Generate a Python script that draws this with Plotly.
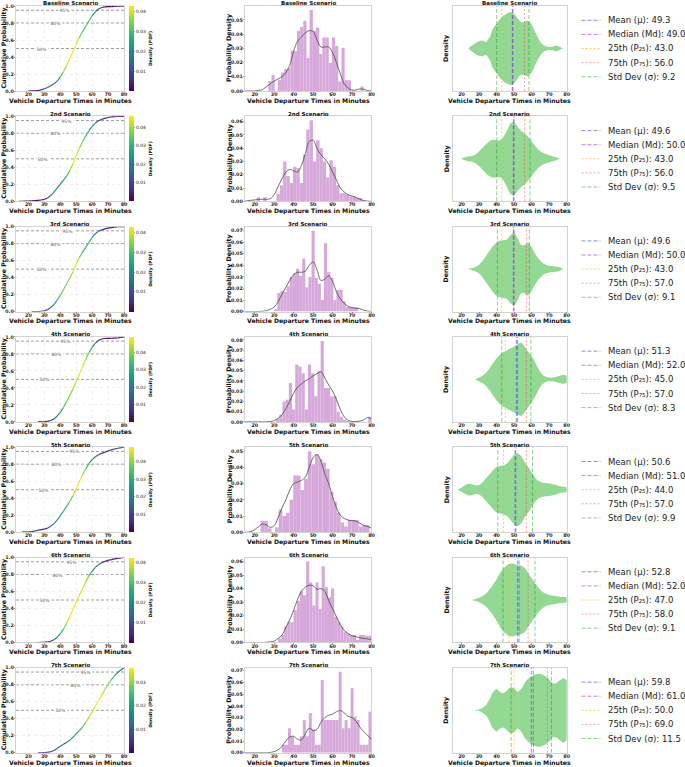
import numpy as np
import plotly.graph_objects as go
from plotly.colors import sample_colorscale

W, H = 685, 767
FONT = "DejaVu Sans"

# ---------------- data ----------------
scenarios = ["Baseline Scenario", "2nd Scenario", "3rd Scenario", "4th Scenario",
             "5th Scenario", "6th Scenario", "7th Scenario"]

kde_x = [14, 16, 18, 20, 22, 24, 26, 28, 30, 32, 34, 36, 38, 40, 42, 44, 46, 48,
         50, 52, 54, 56, 58, 60, 62, 64, 66, 68, 70, 72, 74, 76, 78, 80]

# histogram bins: first edge, width and density per bin
hist_start = [27, 21, 30, 31, 23, 32, 34]
hist_width = [1.633, 1.7, 1.6, 1.633, 1.867, 1.6, 1.533]
hist_1 = [0.0071, 0.0114, 0.0, 0.0079, 0.013, 0.0155, 0.016, 0.0286, 0.028, 0.0424,
          0.045, 0.0495, 0.0233, 0.057, 0.0424, 0.0447, 0.026, 0.0376, 0.0376, 0.0198,
          0.0376, 0.0317, 0.0067, 0.0305, 0.0075, 0.0075, 0.0, 0.0, 0.0, 0.0031]
hist_2 = [0.003, 0.0, 0.003, 0.0, 0.0, 0.0, 0.0055, 0.012, 0.03, 0.019, 0.0137, 0.026,
          0.025, 0.0137, 0.035, 0.054, 0.061, 0.03, 0.046, 0.04, 0.03, 0.018, 0.031,
          0.026, 0.012, 0.006, 0.006, 0.005, 0.0037, 0.0037, 0.0025, 0.0025]
hist_3 = [0.002, 0.016, 0.018, 0.017, 0.022, 0.03, 0.033, 0.037, 0.031, 0.046, 0.021,
          0.03, 0.07, 0.029, 0.024, 0.01, 0.059, 0.034, 0.029, 0.01, 0.019, 0.019,
          0.009, 0.004, 0.004, 0.0035, 0.0035]
hist_4 = [0.003, 0.007, 0.02, 0.0215, 0.038, 0.012, 0.056, 0.054, 0.0475, 0.012, 0.056,
          0.0475, 0.025, 0.05, 0.079, 0.033, 0.033, 0.025, 0.025, 0.01, 0.005, 0.002,
          0.001, 0.0, 0.0, 0.0, 0.0, 0.0, 0.0, 0.005]
hist_5 = [0.007, 0.007, 0.0025, 0.0, 0.003, 0.014, 0.01, 0.012, 0.02, 0.035, 0.035,
          0.026, 0.033, 0.05, 0.042, 0.048, 0.045, 0.043, 0.039, 0.025, 0.019, 0.012,
          0.006, 0.0035, 0.0075, 0.0075, 0.0075, 0.0035, 0.0045, 0.0045]
hist_6 = [0.003, 0.0056, 0.012, 0.0153, 0.015, 0.024, 0.031, 0.038, 0.035, 0.06,
          0.0445, 0.0275, 0.0445, 0.025, 0.0566, 0.041, 0.0336, 0.04, 0.019, 0.0153,
          0.0117, 0.008, 0.0068, 0.0056, 0.0056, 0.002, 0.0056, 0.0056, 0.005, 0.005]
hist_7 = [0.0068, 0.0068, 0.021, 0.014, 0.0068, 0.0068, 0.014, 0.028, 0.014, 0.034,
          0.02, 0.0068, 0.0068, 0.062, 0.028, 0.028, 0.028, 0.028, 0.028, 0.069, 0.021,
          0.028, 0.021, 0.055, 0.031, 0.028, 0.0068, 0.0068, 0.0068, 0.035]

# kernel density (probability density) sampled on kde_x
kde_1 = [0, 0, 0, 0, 0.0005, 0.001, 0.003, 0.005, 0.007, 0.0085, 0.01, 0.013, 0.018,
         0.028, 0.035, 0.038, 0.041, 0.0425, 0.042, 0.036, 0.031, 0.031, 0.031, 0.027,
         0.02, 0.012, 0.005, 0.002, 0.0006, 0.0007, 0.0015, 0.0012, 0.0003, 0]
kde_2 = [0, 0.0003, 0.0008, 0.001, 0.0015, 0.0015, 0.0015, 0.002, 0.005, 0.011, 0.017,
         0.022, 0.024, 0.023, 0.022, 0.027, 0.036, 0.045, 0.046, 0.04, 0.035, 0.032,
         0.028, 0.022, 0.016, 0.01, 0.007, 0.005, 0.004, 0.003, 0.0015, 0.0005, 0.0001, 0]
kde_3 = [0, 0, 0, 0, 0, 0.0003, 0.0008, 0.002, 0.004, 0.0085, 0.015, 0.021, 0.027,
         0.032, 0.034, 0.034, 0.035, 0.04, 0.043, 0.036, 0.027, 0.028, 0.031, 0.026,
         0.017, 0.011, 0.007, 0.0045, 0.0035, 0.003, 0.0025, 0.0012, 0.0004, 0.0001]
kde_4 = [0, 0, 0, 0, 0, 0, 0, 0.0003, 0.0012, 0.0035, 0.007, 0.013, 0.02, 0.028, 0.034,
         0.037, 0.04, 0.042, 0.045, 0.047, 0.049, 0.043, 0.036, 0.03, 0.022, 0.012,
         0.005, 0.0015, 0.0004, 0.0003, 0.0008, 0.002, 0.0042, 0.003]
kde_5 = [0, 0, 0.0003, 0.0015, 0.0035, 0.005, 0.0045, 0.003, 0.004, 0.009, 0.015, 0.02,
         0.026, 0.03, 0.031, 0.032, 0.034, 0.04, 0.046, 0.048, 0.044, 0.036, 0.03,
         0.022, 0.015, 0.0105, 0.0085, 0.0075, 0.0072, 0.0068, 0.0055, 0.0042, 0.0035,
         0.0025]
kde_6 = [0, 0, 0, 0, 0, 0, 0.0002, 0.0005, 0.001, 0.003, 0.0055, 0.011, 0.017, 0.024,
         0.032, 0.038, 0.041, 0.0425, 0.042, 0.0395, 0.04, 0.038, 0.031, 0.025, 0.019,
         0.013, 0.009, 0.0066, 0.005, 0.0043, 0.0035, 0.003, 0.0027, 0.002]
kde_7 = [0, 0, 0, 0, 0, 0, 0, 0.0003, 0.001, 0.0025, 0.0055, 0.01, 0.0135, 0.014,
         0.0115, 0.011, 0.016, 0.021, 0.019, 0.02, 0.026, 0.03, 0.032, 0.033, 0.035,
         0.036, 0.034, 0.031, 0.03, 0.027, 0.022, 0.018, 0.015, 0.011]

# cumulative probability sampled on kde_x
cdf_1 = [0, 0, 0, 0, 0.0005, 0.002, 0.006, 0.014, 0.026, 0.042, 0.061, 0.084, 0.116,
         0.163, 0.227, 0.301, 0.381, 0.466, 0.552, 0.631, 0.699, 0.762, 0.826, 0.885,
         0.932, 0.965, 0.982, 0.989, 0.992, 0.993, 0.995, 0.998, 0.9997, 1.0]
cdf_2 = [0, 0.0003, 0.0014, 0.0033, 0.0058, 0.0089, 0.0119, 0.0155, 0.0226, 0.0389,
         0.0675, 0.1072, 0.1541, 0.202, 0.2478, 0.2977, 0.3619, 0.4445, 0.5372, 0.6248,
         0.7013, 0.7696, 0.8307, 0.8817, 0.9204, 0.9469, 0.9642, 0.9764, 0.9856, 0.9927,
         0.9973, 0.9993, 0.9999, 1.0]
cdf_3 = [0, 0, 0, 0, 0, 0.0003, 0.0014, 0.0042, 0.0103, 0.023, 0.047, 0.083, 0.132,
         0.191, 0.258, 0.327, 0.396, 0.472, 0.556, 0.636, 0.7, 0.755, 0.815, 0.872,
         0.916, 0.944, 0.962, 0.974, 0.982, 0.989, 0.994, 0.998, 0.9995, 1.0]
cdf_4 = [0, 0, 0, 0, 0, 0, 0, 0.0003, 0.0017, 0.0062, 0.016, 0.035, 0.067, 0.112, 0.171,
         0.239, 0.312, 0.39, 0.473, 0.56, 0.652, 0.739, 0.814, 0.877, 0.926, 0.959,
         0.975, 0.981, 0.983, 0.984, 0.985, 0.987, 0.993, 1.0]
cdf_5 = [0, 0, 0.0003, 0.0019, 0.0064, 0.014, 0.0226, 0.0294, 0.0357, 0.0474, 0.069,
         0.1006, 0.142, 0.1925, 0.2475, 0.3043, 0.3638, 0.4305, 0.508, 0.5927, 0.6756,
         0.7477, 0.8072, 0.8541, 0.8874, 0.9104, 0.9275, 0.9419, 0.9552, 0.9678, 0.9789,
         0.9877, 0.9946, 1.0]
cdf_6 = [0, 0, 0, 0, 0, 0, 0.0002, 0.0009, 0.0024, 0.0064, 0.015, 0.0315, 0.0596,
         0.1007, 0.1569, 0.2272, 0.3064, 0.3902, 0.475, 0.5568, 0.6366, 0.7148, 0.784,
         0.8402, 0.8844, 0.9165, 0.9386, 0.9542, 0.9659, 0.9752, 0.983, 0.9895, 0.9953, 1.0]
cdf_7 = [0, 0, 0, 0, 0, 0, 0, 0.0003, 0.0015, 0.0049, 0.0126, 0.0275, 0.0501, 0.0766,
         0.1011, 0.1227, 0.1487, 0.1843, 0.2228, 0.2603, 0.3045, 0.3584, 0.418, 0.4806,
         0.546, 0.6143, 0.6816, 0.7441, 0.8028, 0.8577, 0.9048, 0.9433, 0.975, 1.0]

# violin relative half-width on kde_x
violin_1 = [0, 0, 0, 0, 0, 0, 0.08, 0.15, 0.2, 0.21, 0.18, 0.3, 0.55, 0.68, 0.81, 0.9,
            0.96, 1.0, 0.95, 0.82, 0.72, 0.74, 0.76, 0.66, 0.46, 0.26, 0.12, 0.06, 0.04,
            0.05, 0.08, 0.04, 0, 0]
violin_2 = [0, 0, 0, 0, 0.04, 0.07, 0.08, 0.12, 0.2, 0.3, 0.4, 0.48, 0.52, 0.5, 0.5, 0.6,
            0.78, 0.97, 1.0, 0.88, 0.77, 0.7, 0.6, 0.48, 0.35, 0.24, 0.17, 0.13, 0.1,
            0.07, 0.04, 0, 0, 0]
violin_3 = [0, 0, 0, 0, 0, 0, 0.03, 0.06, 0.12, 0.22, 0.36, 0.5, 0.63, 0.73, 0.78, 0.79,
            0.82, 0.93, 1.0, 0.85, 0.66, 0.66, 0.72, 0.6, 0.42, 0.28, 0.18, 0.12, 0.09,
            0.08, 0.07, 0.05, 0, 0]
violin_4 = [0, 0, 0, 0, 0, 0, 0, 0, 0.05, 0.1, 0.18, 0.3, 0.44, 0.58, 0.68, 0.75, 0.8,
            0.85, 0.9, 0.96, 1.0, 0.9, 0.76, 0.63, 0.47, 0.28, 0.14, 0.07, 0.05, 0.05,
            0.07, 0.1, 0.12, 0.1]
violin_5 = [0, 0, 0, 0.05, 0.12, 0.16, 0.15, 0.12, 0.13, 0.2, 0.31, 0.42, 0.53, 0.62,
            0.65, 0.67, 0.72, 0.83, 0.95, 1.0, 0.92, 0.76, 0.63, 0.47, 0.33, 0.24, 0.2,
            0.18, 0.17, 0.15, 0.13, 0.1, 0.08, 0.06]
violin_6 = [0, 0, 0, 0, 0, 0, 0, 0.03, 0.06, 0.11, 0.18, 0.29, 0.42, 0.57, 0.74, 0.87,
            0.95, 1.0, 0.99, 0.95, 0.94, 0.88, 0.74, 0.6, 0.46, 0.33, 0.23, 0.17, 0.14,
            0.12, 0.1, 0.09, 0.08, 0.07]
violin_7 = [0, 0, 0, 0, 0, 0, 0, 0, 0.02, 0.07, 0.14, 0.3, 0.5, 0.58, 0.5, 0.47, 0.55,
            0.63, 0.6, 0.5, 0.58, 0.75, 0.86, 0.93, 0.98, 1.0, 0.98, 0.93, 0.85, 0.74,
            0.74, 0.82, 0.88, 0.82]

means = [49.3, 49.6, 49.6, 51.3, 50.6, 52.8, 59.8]
medians = [49.0, 50.0, 50.0, 52.0, 51.0, 52.0, 61.0]
p25s = [43.0, 43.0, 43.0, 45.0, 44.0, 47.0, 50.0]
p75s = [56.0, 56.0, 57.0, 57.0, 57.0, 58.0, 69.0]
stds = [9.2, 9.5, 9.1, 8.3, 9.9, 9.1, 11.5]

pct_levels = [0.5, 0.8, 0.95]
pct_labels = ["50%", "80%", "95%"]

hists = [hist_1, hist_2, hist_3, hist_4, hist_5, hist_6, hist_7]
kdes = [kde_1, kde_2, kde_3, kde_4, kde_5, kde_6, kde_7]
cdfs = [cdf_1, cdf_2, cdf_3, cdf_4, cdf_5, cdf_6, cdf_7]
violins = [violin_1, violin_2, violin_3, violin_4, violin_5, violin_6, violin_7]

# ---------------- layout geometry (pixels) ----------------
COLS = [(16, 124), (245, 371.5), (452.7, 566.7)]
XRANGES = [[12.2, 80], [15, 80], [15, 80]]
TOP0, PLOT_H, PITCH = 6.0, 85.0, 110.3
YTITLE_X = [4.0, 229.5, 446.5]
VIOLIN_SCALE = 0.43

HIST_COLOR = "#d7a8da"
VIOLIN_COLOR = "#93d993"
STAT_STYLE = [
    ("Mean (μ)", "rgba(60,60,255,0.6)", "4px,2px"),
    ("Median (Md)", "rgba(170,40,210,0.6)", "4px,2px"),
    ("25th (P₂₅)", "rgba(255,170,0,0.6)", "2px,2px"),
    ("75th (P₇₅)", "rgba(255,60,60,0.5)", "2px,2px"),
    ("Std Dev (σ)", "rgba(0,150,0,0.45)", "4px,2px"),
]


def fx(px):
    return px / W


def fy(py):
    return 1 - py / H


tick_font = dict(family=FONT, size=4.8, color="#222", weight="bold")
fig = go.Figure()
layout = {}
shapes = []
annotations = []

for r in range(7):
    top = TOP0 + PITCH * r
    bot = top + PLOT_H
    ymid = (top + bot) / 2
    kde = kdes[r]
    cdf = cdfs[r]
    for c in range(3):
        n = r * 3 + c + 1
        xa = "xaxis" if n == 1 else f"xaxis{n}"
        ya = "yaxis" if n == 1 else f"yaxis{n}"
        xr = "x" if n == 1 else f"x{n}"
        yr = "y" if n == 1 else f"y{n}"
        x0, x1 = COLS[c]
        common = dict(showline=True, mirror=True, linecolor="#c8c8c8", linewidth=0.8,
                      ticks="outside", ticklen=1.5, tickwidth=0.6, tickcolor="#666",
                      tickfont=tick_font, zeroline=False, showgrid=False)
        layout[xa] = dict(domain=[fx(x0), fx(x1)], anchor=yr, range=XRANGES[c],
                          tickvals=[20, 30, 40, 50, 60, 70, 80],
                          ticklabelstandoff=-3, **common)
        layout[ya] = dict(domain=[fy(bot), fy(top)], anchor=xr,
                          ticklabelstandoff=-1, **common)

        # titles
        annotations.append(dict(xref="paper", yref="paper", x=fx((x0 + x1) / 2),
                                y=fy(3.4), yanchor="middle", xanchor="center",
                                text=f"<b>{scenarios[r]}</b>", showarrow=False,
                                font=dict(family=FONT, size=5.5, color="#111"),
                                yshift=-(PITCH * r)))
        annotations.append(dict(xref="paper", yref="paper", x=fx((x0 + x1) / 2),
                                y=fy(bot + 9.8), yanchor="middle", xanchor="center",
                                text="<b>Vehicle Departure Times in Minutes</b>",
                                showarrow=False, font=dict(family=FONT, size=6.1, color="#111")))
        ytxt = ["Cumulative Probability", "Probability Density", "Density"][c]
        annotations.append(dict(xref="paper", yref="paper", x=fx(YTITLE_X[c]),
                                y=fy(ymid), xanchor="center", yanchor="middle",
                                textangle=-90, text=f"<b>{ytxt}</b>", showarrow=False,
                                font=dict(family=FONT, size=6.3, color="#111")))

        if c == 0:
            layout[xa].update(showgrid=True, gridcolor="#e4e4e4", griddash="dot", gridwidth=0.6)
            layout[ya].update(range=[0, 1.0], tickvals=[0, 0.2, 0.4, 0.6, 0.8, 1.0],
                              tickformat=".1f", showgrid=True, gridcolor="#e4e4e4",
                              griddash="dot", gridwidth=0.6)
            cmax = max(kde)
            cmin = 0.0
            start = next(i for i in range(len(cdf) - 1) if cdf[i + 1] > 0)
            for i in range(start, len(kde_x) - 1):
                t = ((kde[i] + kde[i + 1]) / 2 - cmin) / (cmax - cmin)
                col = sample_colorscale("Viridis", [min(max(t, 0), 1)])[0]
                fig.add_trace(go.Scatter(x=[kde_x[i], kde_x[i + 1]], y=[cdf[i], cdf[i + 1]],
                                         mode="lines", line=dict(color=col, width=1.2),
                                         xaxis=xr, yaxis=yr, showlegend=False,
                                         hoverinfo="skip"))
            fig.add_trace(go.Scatter(
                x=kde_x, y=cdf, mode="markers", xaxis=xr, yaxis=yr, showlegend=False,
                hoverinfo="skip",
                marker=dict(size=1, opacity=0, color=kde, colorscale="Viridis", cmin=cmin,
                            cmax=cmax, showscale=True,
                            colorbar=dict(x=fx(129), xanchor="left", xref="paper",
                                          y=fy(ymid), yanchor="middle", yref="paper",
                                          len=PLOT_H / H, lenmode="fraction", thickness=5,
                                          thicknessmode="pixels", outlinewidth=0, xpad=0,
                                          ypad=0, tickvals=[0.01, 0.02, 0.03, 0.04],
                                          tickformat=".2f", ticks="outside", ticklen=1.5,
                                          tickwidth=0.5, tickcolor="#444",
                                          tickfont=dict(family=FONT, size=4.5, color="#222"),
                                          title=dict(text="<b>Density (PDF)</b>", side="right",
                                                     font=dict(family=FONT, size=4.5,
                                                               color="#111"))))))
            for lev, lab in zip(pct_levels, pct_labels):
                shapes.append(dict(type="line", xref=f"{xr} domain", yref=yr, x0=0, x1=1,
                                   y0=lev, y1=lev, layer="below",
                                   line=dict(color="rgba(110,110,110,0.85)", width=0.8,
                                             dash="3px,2px")))
                xcross = float(np.interp(lev, cdf, kde_x))
                annotations.append(dict(xref=xr, yref=yr, x=xcross - 20, y=lev,
                                        text=lab, showarrow=False, bgcolor="white",
                                        borderpad=0.5,
                                        font=dict(family=FONT, size=4.5, color="#555")))
        elif c == 1:
            hv = hists[r]
            w = hist_width[r]
            centers = [hist_start[r] + w * (i + 0.5) for i in range(len(hv))]
            fig.add_trace(go.Bar(x=centers, y=hv, width=w, xaxis=xr, yaxis=yr,
                                 marker=dict(color=HIST_COLOR, line=dict(width=0)),
                                 showlegend=False, hoverinfo="skip"))
            fig.add_trace(go.Scatter(x=kde_x, y=kde, mode="lines", xaxis=xr, yaxis=yr,
                                     line=dict(color="#4a4a4a", width=0.8, shape="spline"),
                                     showlegend=False, hoverinfo="skip"))
            ymax = 1.05 * max(max(hv), max(kde))
            layout[ya].update(range=[0, ymax], dtick=0.01, tick0=0, tickformat=".2f")
        else:
            vw = violins[r]
            idx = [i for i, v in enumerate(vw) if v > 0]
            i0 = max(idx[0] - 1, 0)
            i1 = min(idx[-1] + 1, len(vw) - 1)
            xs = kde_x[i0:i1 + 1]
            ws = vw[i0:i1 + 1]
            px_ = xs + xs[::-1]
            py_ = [v * VIOLIN_SCALE for v in ws] + [-v * VIOLIN_SCALE for v in ws[::-1]]
            fig.add_trace(go.Scatter(x=px_, y=py_, mode="lines", fill="toself",
                                     fillcolor=VIOLIN_COLOR,
                                     line=dict(width=0, color=VIOLIN_COLOR, shape="spline",
                                               smoothing=0.6),
                                     xaxis=xr, yaxis=yr, showlegend=False,
                                     hoverinfo="skip"))
            vals = [means[r], medians[r], p25s[r], p75s[r]]
            for (lab, colr, dash), v in zip(STAT_STYLE[:4], vals):
                fig.add_trace(go.Scatter(x=[v, v], y=[-0.5, 0.5], mode="lines",
                                         line=dict(color=colr, width=1, dash=dash),
                                         xaxis=xr, yaxis=yr, showlegend=False,
                                         hoverinfo="skip"))
            for v in (means[r] - stds[r], means[r] + stds[r]):
                fig.add_trace(go.Scatter(x=[v, v], y=[-0.5, 0.5], mode="lines",
                                         line=dict(color=STAT_STYLE[4][1], width=1,
                                                   dash=STAT_STYLE[4][2]),
                                         xaxis=xr, yaxis=yr, showlegend=False,
                                         hoverinfo="skip"))
            layout[ya].update(range=[-0.5, 0.5], showticklabels=False, ticks="")

    # manual legend for the row
    legend_vals = [means[r], medians[r], p25s[r], p75s[r], stds[r]]
    for j, ((lab, colr, dash), v) in enumerate(zip(STAT_STYLE, legend_vals)):
        yc = ymid + (j - 2) * 14.1
        shapes.append(dict(type="line", xref="paper", yref="paper", x0=fx(581.5),
                           x1=fx(600.5), y0=fy(yc), y1=fy(yc),
                           line=dict(color=colr, width=1, dash=dash)))
        annotations.append(dict(xref="paper", yref="paper", x=fx(605.5), y=fy(yc),
                                xanchor="left", yanchor="middle", showarrow=False,
                                text=f"{lab}: {v:.1f}",
                                font=dict(family=FONT, size=8.5, color="#222")))

fig.update_layout(width=W, height=H, autosize=False,
                  margin=dict(l=0, r=0, t=0, b=0, autoexpand=False),
                  paper_bgcolor="white", plot_bgcolor="white",
                  font=dict(family=FONT), shapes=shapes, annotations=annotations,
                  showlegend=False, hovermode=False, **layout)
fig.write_html("out.html", config={"displayModeBar": False, "staticPlot": True},
               post_script="document.body.style.margin='0';document.body.style.padding='0';")
